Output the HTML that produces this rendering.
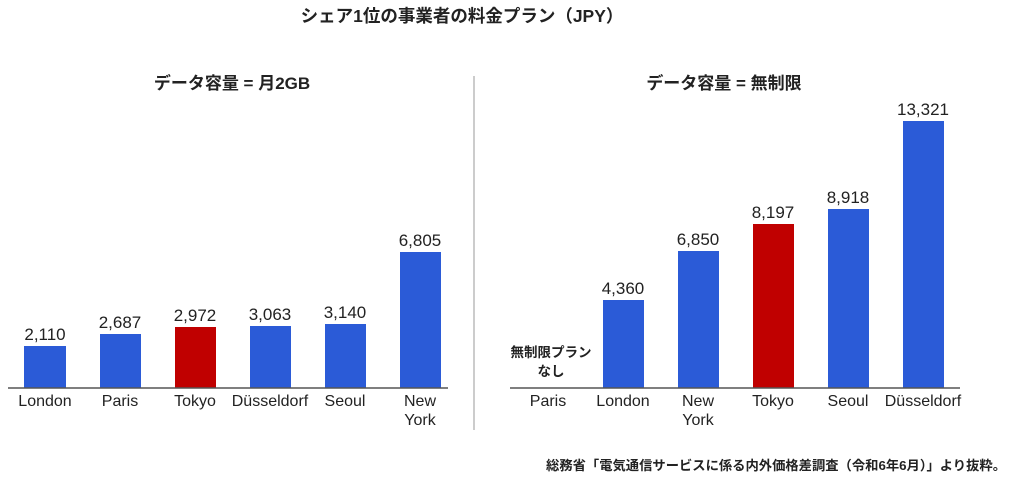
<!DOCTYPE html>
<html><head><meta charset="utf-8"><style>
html,body{margin:0;padding:0;background:#fff;width:1024px;height:501px;overflow:hidden}
text{font-family:"Liberation Sans","Noto Sans CJK JP",sans-serif;fill:#222}
</style></head><body>
<svg width="1024" height="501" viewBox="0 0 1024 501" xmlns="http://www.w3.org/2000/svg">
<text x="462" y="22" text-anchor="middle" font-size="17.5" font-weight="bold">シェア1位の事業者の料金プラン（JPY）</text>
<text x="232" y="89" text-anchor="middle" font-size="17" font-weight="bold">データ容量 = 月2GB</text>
<text x="724" y="89" text-anchor="middle" font-size="17" font-weight="bold">データ容量 = 無制限</text>
<line x1="474" y1="76" x2="474" y2="430" stroke="#999" stroke-width="1"/>
<g font-size="17" text-anchor="middle">
<rect x="24" y="346" width="42" height="42" fill="#2b5bd7"/><text x="45" y="340">2,110</text>
<rect x="100" y="334" width="41" height="54" fill="#2b5bd7"/><text x="120" y="328">2,687</text>
<rect x="175" y="327" width="41" height="61" fill="#c00000"/><text x="195" y="321">2,972</text>
<rect x="250" y="326" width="41" height="62" fill="#2b5bd7"/><text x="270" y="320">3,063</text>
<rect x="325" y="324" width="41" height="64" fill="#2b5bd7"/><text x="345" y="318">3,140</text>
<rect x="400" y="252" width="41" height="136" fill="#2b5bd7"/><text x="420" y="246">6,805</text>
<rect x="603" y="300" width="41" height="88" fill="#2b5bd7"/><text x="623" y="294">4,360</text>
<rect x="678" y="251" width="41" height="137" fill="#2b5bd7"/><text x="698" y="245">6,850</text>
<rect x="753" y="224" width="41" height="164" fill="#c00000"/><text x="773" y="218">8,197</text>
<rect x="828" y="209" width="41" height="179" fill="#2b5bd7"/><text x="848" y="203">8,918</text>
<rect x="903" y="121" width="41" height="267" fill="#2b5bd7"/><text x="923" y="115">13,321</text>
</g>
<line x1="8" y1="388" x2="448" y2="388" stroke="#555" stroke-width="1.5"/>
<line x1="510" y1="388" x2="960" y2="388" stroke="#555" stroke-width="1.5"/>
<g font-size="16" text-anchor="middle">
<text x="45" y="406">London</text>
<text x="120" y="406">Paris</text>
<text x="195" y="406">Tokyo</text>
<text x="270" y="406">Düsseldorf</text>
<text x="345" y="406">Seoul</text>
<text x="420" y="406">New</text><text x="420" y="425">York</text>
<text x="548" y="406">Paris</text>
<text x="623" y="406">London</text>
<text x="698" y="406">New</text><text x="698" y="425">York</text>
<text x="773" y="406">Tokyo</text>
<text x="848" y="406">Seoul</text>
<text x="923" y="406">Düsseldorf</text>
</g>
<text x="551" y="357" text-anchor="middle" font-size="13.5" font-weight="bold">無制限プラン</text>
<text x="551" y="376" text-anchor="middle" font-size="13.5" font-weight="bold">なし</text>
<text x="1006" y="470" text-anchor="end" font-size="13.3" font-weight="bold">総務省「電気通信サービスに係る内外価格差調査（令和6年6月）」より抜粋。</text>
</svg>
</body></html>
